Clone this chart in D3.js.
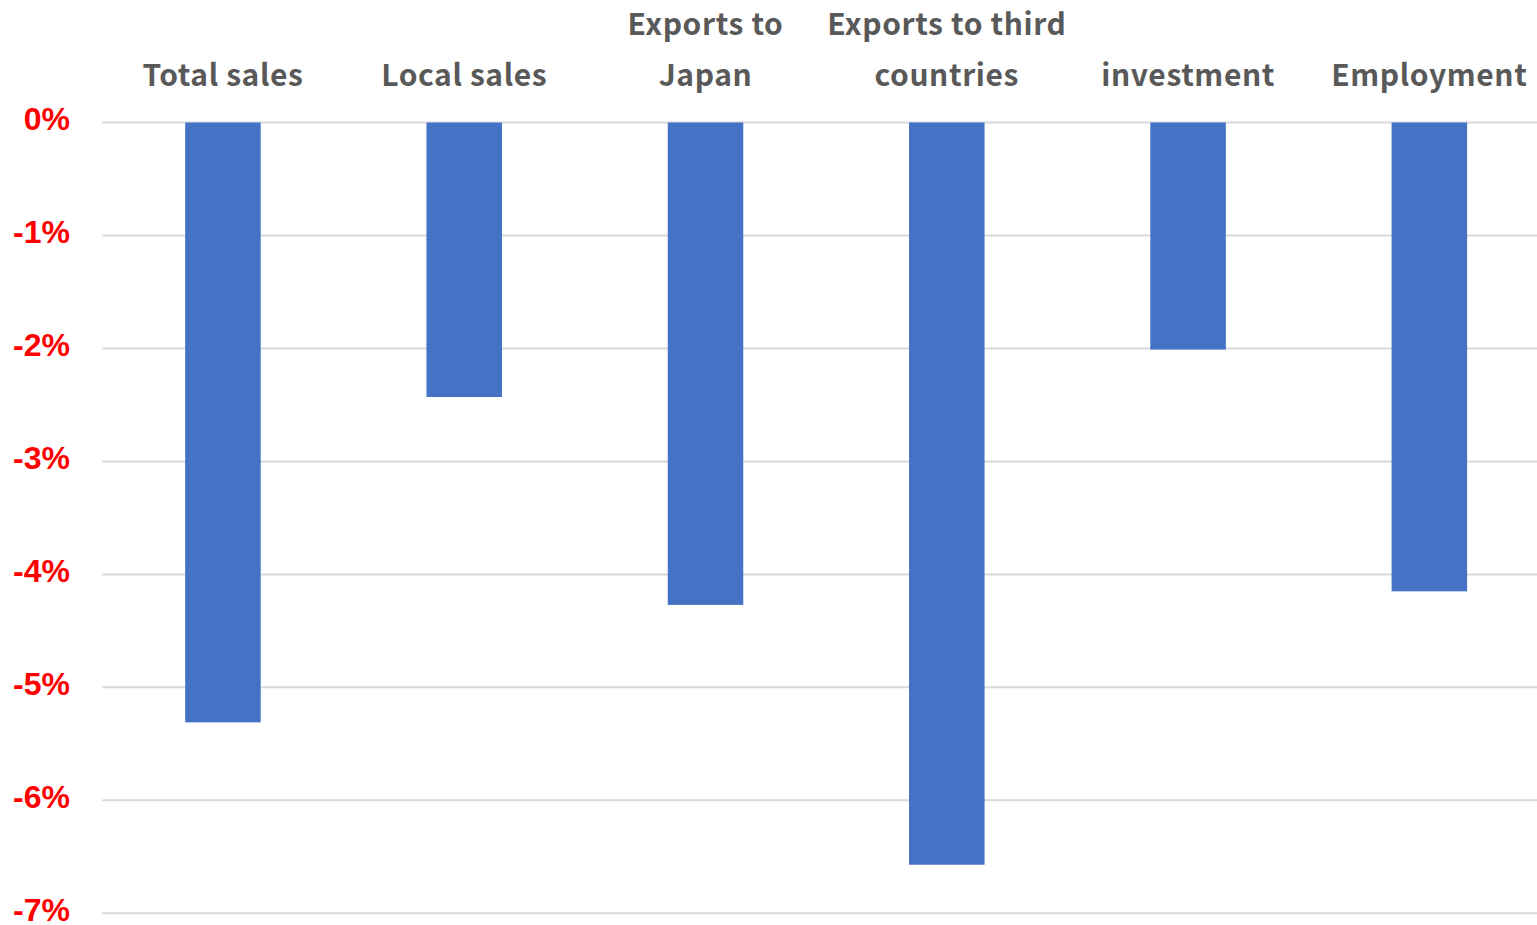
<!DOCTYPE html>
<html>
<head>
<meta charset="utf-8">
<script src="https://cdn.jsdelivr.net/npm/d3@7"></script>
<style>
  html, body { margin: 0; padding: 0; background: #fff; }
  svg { display: block; }
</style>
</head>
<body>
<svg id="chart"></svg>
<script>
// category labels (lines split by "\n") and values in %
const categories = [
  "Total sales",
  "Local sales",
  "Exports to\nJapan",
  "Exports to third\ncountries",
  "investment",
  "Employment",
];
const values = [-5.31, -2.43, -4.27, -6.57, -2.01, -4.15];
const yTickValues = [0, -1, -2, -3, -4, -5, -6, -7];

const dims = {
  width: 1537,
  height: 925,
  plot: { left: 102.3, right: 1550, top: 122.5, bottom: 913.3 },
  labelBaseline: 86,
  lineHeight: 51,
};

const svg = d3
  .select("#chart")
  .attr("width", dims.width)
  .attr("height", dims.height)
  .attr("viewBox", [0, 0, dims.width, dims.height]);

const xScale = d3
  .scaleBand()
  .domain(categories)
  .range([dims.plot.left, dims.plot.right])
  .paddingInner(0.687)
  .paddingOuter(0.3435);

const yScale = d3
  .scaleLinear()
  .domain([0, -7])
  .range([dims.plot.top, dims.plot.bottom]);

// gridlines
svg
  .append("g")
  .attr("id", "grid")
  .selectAll("line")
  .data(yTickValues)
  .enter()
  .append("line")
  .attr("x1", dims.plot.left)
  .attr("x2", dims.plot.right)
  .attr("y1", (d) => yScale(d))
  .attr("y2", (d) => yScale(d))
  .attr("stroke", "#d9d9d9")
  .attr("stroke-width", 2);

// y axis labels (plain hyphen, like the original)
svg
  .append("g")
  .attr("id", "y-axis")
  .attr("transform", `translate(70,0)`)
  .call(
    d3
      .axisLeft(yScale)
      .tickValues(yTickValues)
      .tickSize(0)
      .tickPadding(0)
      .tickFormat((d) => (d < 0 ? "-" : "") + Math.abs(d) + "%")
  )
  .call((g) => {
    g.select("path.domain").remove();
    g.selectAll(".tick text")
      .attr("fill", "#ff0000")
      .attr("font-size", 32)
      .attr("font-weight", "bold")
      .attr("font-family", "'Liberation Sans', Arial, sans-serif")
      .attr("dy", "0.32em")
      .attr("y", -3);
  });

// bars
svg
  .append("g")
  .attr("id", "bars")
  .selectAll("rect")
  .data(categories.map((c, i) => ({ key: c, value: values[i] })))
  .enter()
  .append("rect")
  .attr("x", (d) => xScale(d.key))
  .attr("y", yScale(0))
  .attr("width", xScale.bandwidth())
  .attr("height", (d) => yScale(d.value) - yScale(0))
  .attr("fill", "#4472c4");

// category labels at top
const labels = svg
  .append("g")
  .attr("id", "x-labels")
  .selectAll("text")
  .data(categories)
  .enter()
  .append("text")
  .attr("text-anchor", "middle")
  .attr("fill", "#595959")
  .attr("font-size", 30)
  .attr("font-weight", "bold")
  .attr("letter-spacing", 0.6)
  .attr("font-family", "'Noto Sans CJK JP', 'Noto Sans', sans-serif");

labels.each(function (d) {
  const self = d3.select(this);
  const lines = d.split("\n");
  const cx = xScale(d) + xScale.bandwidth() / 2;
  lines.forEach((line, i) => {
    self
      .append("tspan")
      .attr("x", cx)
      .attr("y", dims.labelBaseline - (lines.length - 1 - i) * dims.lineHeight)
      .text(line);
  });
});
</script>
</body>
</html>
